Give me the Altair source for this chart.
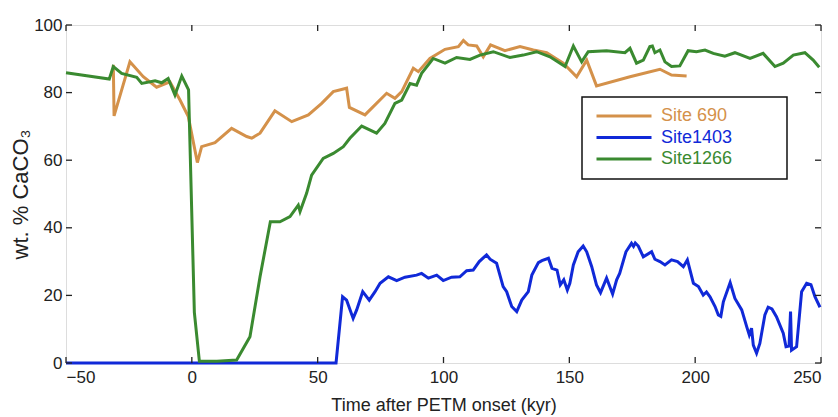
import altair as alt
import pandas as pd

# ---- data ----
site690_t = [-31.2, -30.9, -24.6, -19.3, -14.0, -8.7, -4.7, -1.4, 2.2, 3.9, 9.2, 15.8, 21.8, 23.8,
             27.1, 33.0, 39.7, 46.3, 51.6, 56.2, 61.5, 62.6, 68.8, 71.5, 77.4, 80.7, 83.4, 88.0,
             90.0, 94.6, 100.6, 105.9, 107.9, 109.8, 113.2, 115.8, 118.7, 124.4, 130.4, 135.7,
             141.0, 147.6, 152.9, 156.9, 160.8, 174.1, 186.0, 190.6, 196.6]
site690_v = [88.2, 73.1, 89.1, 84.7, 81.6, 83.2, 77.8, 72.9, 59.3, 64.0, 65.2, 69.4, 67.0, 66.5,
             68.0, 74.6, 71.4, 73.4, 76.8, 80.3, 81.3, 75.6, 73.4, 75.4, 79.8, 78.3, 80.3, 87.2,
             86.2, 90.1, 92.8, 93.6, 95.4, 94.1, 93.8, 90.6, 94.1, 92.4, 93.6, 92.6,
             91.8, 88.7, 84.7, 89.6, 82.0, 84.7, 86.9, 85.2, 84.9]

site1403_t = [-50, 57.3, 59.9, 61.5, 64.1, 65.5, 67.9, 70.5, 72.8, 74.8, 78.1, 81.4, 84.7, 89.3,
              91.3, 94.0, 97.3, 99.9, 103.2, 106.5, 109.2, 111.8, 114.2, 117.1, 118.5, 121.1,
              123.7, 125.1, 127.1, 129.1, 131.1, 133.7, 135.1, 137.7, 139.1, 141.7, 143.1, 145.1,
              146.4, 147.8, 149.2, 150.2, 151.6, 153.5, 155.5, 156.9, 158.9, 160.8, 162.4, 164.8,
              167.2, 168.8, 170.0, 172.5, 174.7, 175.5, 176.2, 177.4, 179.4, 182.7, 184.0, 186.0,
              188.0, 190.6, 193.0, 195.3, 196.9, 199.3, 201.3, 203.2, 204.5, 205.9, 207.9, 209.2,
              210.2, 211.2, 213.9, 215.8, 218.5, 220.5, 221.5, 222.4, 223.1, 224.4, 225.7, 227.7,
              229.0, 230.5, 232.3, 235.0, 236.1, 237.3, 237.9, 238.3, 240.3, 242.3, 244.3, 246.0,
              247.6, 249.6]
site1403_v = [0, 0, 19.6, 18.6, 13.2, 15.7, 21.1, 18.6, 21.1, 23.6, 25.5, 24.4, 25.4, 26.0,
              26.5, 25.1, 26.0, 24.4, 25.4, 25.5, 27.3, 27.5, 30.0, 32.0, 30.7, 29.5,
              22.6, 21.1, 16.7, 15.2, 18.6, 21.1, 26.0, 29.7, 30.3, 31.0, 28.0, 27.5,
              23.1, 24.6, 21.6, 23.6, 29.0, 32.9, 34.6, 32.9, 28.5, 23.1, 20.8, 25.1,
              20.4, 24.6, 26.5, 32.9, 35.4, 34.5, 35.5, 34.6, 31.4, 32.9, 30.7, 30.0,
              29.0, 30.5, 30.0, 28.5, 30.5, 23.6, 22.6, 20.1, 21.0, 19.6, 16.7, 14.2,
              13.8, 18.1, 23.8, 19.1, 15.7, 10.7, 8.3, 10.3, 5.3, 2.9, 5.8, 14.2,
              16.5, 16.0, 13.7, 8.8, 4.8, 5.0, 15.2, 3.8, 4.8, 21.1, 23.6, 23.2,
              19.6, 16.5]

site1266_t = [-50, -32.8, -31.2, -27.9, -21.9, -19.9, -14.6, -12.0, -9.4, -6.7, -4.0, -1.3, 1.0,
              3.0, 10.0, 17.8, 23.1, 27.1, 31.2, 35.0, 39.0, 42.3, 43.0, 45.6, 47.6, 52.2, 56.2,
              60.2, 62.8, 67.5, 73.4, 76.7, 80.7, 83.4, 86.7, 89.3, 91.3, 95.9, 100.6, 105.2,
              110.5, 114.5, 119.8, 126.4, 131.7, 137.0, 142.3, 148.3, 151.6, 154.9, 157.5, 164.8,
              172.1, 174.1, 176.7, 179.4, 182.0, 183.0, 184.0, 186.0, 188.0, 190.6, 193.9, 197.2,
              200.5, 203.9, 207.2, 211.8, 215.8, 221.8, 227.0, 231.7, 235.0, 239.0, 243.6, 246.9,
              249.3]
site1266_v = [85.9, 84.0, 87.7, 85.7, 84.5, 82.7, 83.5, 82.9, 84.2, 79.3, 84.9, 80.8, 15.0,
              0.5, 0.5, 0.9, 7.8, 25.5, 41.8, 41.8, 43.3, 46.7, 44.8, 50.2, 55.6, 60.5, 62.0,
              64.0, 66.5, 70.1, 68.0, 70.9, 76.8, 77.8, 82.7, 82.2, 85.7, 90.1, 88.7, 90.4,
              89.8, 91.1, 92.1, 90.4, 91.1, 92.1, 90.6, 87.7, 93.8, 89.1, 92.1, 92.4,
              91.8, 93.1, 88.7, 89.6, 93.6, 93.8, 91.8, 92.6, 89.1, 87.7, 87.9, 92.4,
              92.1, 92.6, 91.6, 90.8, 91.8, 90.1, 91.6, 87.7, 88.7, 91.1, 91.8, 89.6,
              87.5]

site_names = ["Site 690", "Site1403", "Site1266"]
site_colors = ["#D4914A", "#1029D8", "#3A8A30"]
x_ticks = [-50, 0, 50, 100, 150, 200, 250]
y_ticks = [0, 20, 40, 60, 80, 100]

frames = []
for name, t, v in [(site_names[0], site690_t, site690_v),
                   (site_names[1], site1403_t, site1403_v),
                   (site_names[2], site1266_t, site1266_v)]:
    frames.append(pd.DataFrame({"t": t, "v": v, "site": name}))
df = pd.concat(frames, ignore_index=True)
xt_df = pd.DataFrame({"tx": x_ticks})
yt_df = pd.DataFrame({"ty": y_ticks})

W, H = 755, 338
TICK = 6
xscale = alt.Scale(domain=[-50, 250], nice=False, zero=False)
yscale = alt.Scale(domain=[0, 100], nice=False, zero=False)

label_color_expr = ("datum.label == 'Site 690' ? '%s' : (datum.label == 'Site1403' ? '%s' : '%s')"
                    % tuple(site_colors))

axis_common = dict(ticks=False, domain=False, grid=False, labelColor="#222", labelFontSize=17,
                   titleColor="#222", titleFontWeight="normal")

lines = alt.Chart(df).mark_line(strokeWidth=3, clip=False).encode(
    x=alt.X("t:Q", scale=xscale,
            axis=alt.Axis(orient="bottom", values=x_ticks, labelPadding=6,
                          title="Time after PETM onset (kyr)", titleFontSize=18, titlePadding=11,
                          **axis_common)),
    y=alt.Y("v:Q", scale=yscale,
            axis=alt.Axis(orient="left", values=y_ticks, labelPadding=4,
                          title="wt. % CaCO₃", titleFontSize=22, titlePadding=1,
                          **axis_common)),
    color=alt.Color("site:N", scale=alt.Scale(domain=site_names, range=site_colors),
                    legend=alt.Legend(orient="none", legendX=527, legendY=82, title=None,
                                      symbolType="M-1,0H9", symbolSize=121,
                                      symbolStrokeWidth=3, labelFontSize=18, labelOffset=50,
                                      rowPadding=3.5, padding=0,
                                      labelColor={"expr": label_color_expr})),
)

tick_style = dict(stroke="#222", strokeWidth=1.3)
bottom_ticks = alt.Chart(xt_df).mark_rule(**tick_style).encode(
    x=alt.X("tx:Q", scale=xscale, axis=None), y=alt.value(H), y2=alt.value(H - TICK))
top_ticks = alt.Chart(xt_df).mark_rule(**tick_style).encode(
    x=alt.X("tx:Q", scale=xscale, axis=None), y=alt.value(0), y2=alt.value(TICK))
left_ticks = alt.Chart(yt_df).mark_rule(**tick_style).encode(
    y=alt.Y("ty:Q", scale=yscale, axis=None), x=alt.value(0), x2=alt.value(TICK))
right_ticks = alt.Chart(yt_df).mark_rule(**tick_style).encode(
    y=alt.Y("ty:Q", scale=yscale, axis=None), x=alt.value(W), x2=alt.value(W - TICK))

box = alt.Chart(pd.DataFrame({"a": [0]})).mark_rect(
    fill="white", stroke="#111", strokeWidth=1.5
).encode(x=alt.value(516), x2=alt.value(721), y=alt.value(72), y2=alt.value(154))

chart = alt.layer(
    lines, bottom_ticks, top_ticks, left_ticks, right_ticks, box
).resolve_axis(
    x="independent", y="independent"
).properties(
    width=W, height=H,
    autosize=alt.AutoSizeParams(type="none"),
    padding={"left": 66, "top": 25, "right": 17, "bottom": 54},
).configure_view(
    stroke="#222", strokeWidth=1.5
).configure(
    font="Liberation Sans"
)

chart.save("out.html", embed_options={"renderer": "svg", "actions": False})
